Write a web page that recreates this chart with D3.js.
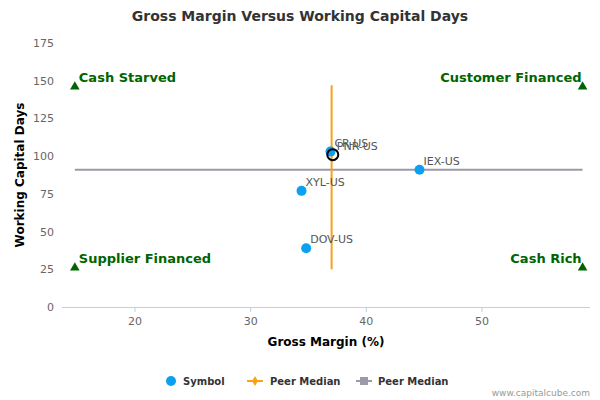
<!DOCTYPE html>
<html><head><meta charset="utf-8">
<script src="https://cdn.jsdelivr.net/npm/d3@7"></script>
<style>body{margin:0;background:#fff}svg{font-family:"DejaVu Sans",sans-serif}</style>
</head><body><svg id="c" width="600" height="400"></svg>
<script>
const symbols = ["CR-US", "PNR-US", "IEX-US", "XYL-US", "DOV-US"];
const grossMargin = [36.9, 37.1, 44.6, 34.4, 34.8];
const wcDays = [103, 101, 91, 77, 39];
const medianX = 37.0, medianY = 91;
const medianYRange = [25, 147];
const quadrants = [
  {name: "Cash Starved", x: 14.8, y: 146},
  {name: "Customer Financed", x: 58.7, y: 146},
  {name: "Supplier Financed", x: 14.8, y: 26},
  {name: "Cash Rich", x: 58.7, y: 26}
];
const xTicks = [20, 30, 40, 50];
const yTicks = [0, 25, 50, 75, 100, 125, 150, 175];

const svg = d3.select("#c");
const x = d3.scaleLinear().domain([13.69, 59.34]).range([62, 590]);
const y = d3.scaleLinear().domain([0, 175]).range([307, 43]);

svg.append("text").attr("x", 300).attr("y", 21).attr("text-anchor", "middle")
  .attr("font-size", 14).attr("font-weight", "bold").attr("fill", "#333")
  .text("Gross Margin Versus Working Capital Days");

// axes
svg.append("line").attr("x1", 62).attr("x2", 590).attr("y1", 307.5).attr("y2", 307.5).attr("stroke", "#c0d0e0");
xTicks.forEach(t => {
  svg.append("line").attr("x1", x(t)).attr("x2", x(t)).attr("y1", 307).attr("y2", 312).attr("stroke", "#c0d0e0");
  svg.append("text").attr("x", x(t)).attr("y", 325).attr("text-anchor", "middle").attr("font-size", 11).attr("fill", "#666").text(t);
});
yTicks.forEach(t => {
  svg.append("text").attr("x", 54).attr("y", y(t) + 4).attr("text-anchor", "end").attr("font-size", 11).attr("fill", "#666").text(t);
});
svg.append("text").attr("x", 326).attr("y", 346).attr("text-anchor", "middle").attr("font-size", 12).attr("font-weight", "bold").attr("fill", "#000").text("Gross Margin (%)");
svg.append("text").attr("transform", `translate(24,175) rotate(-90)`).attr("text-anchor", "middle").attr("font-size", 12).attr("font-weight", "bold").attr("fill", "#000").text("Working Capital Days");

// medians
svg.append("line").attr("x1", x(14.8)).attr("x2", x(58.7)).attr("y1", y(medianY)).attr("y2", y(medianY)).attr("stroke", "#9a9aa8").attr("stroke-width", 2);
svg.append("line").attr("x1", x(medianX)).attr("x2", x(medianX)).attr("y1", y(medianYRange[0])).attr("y2", y(medianYRange[1])).attr("stroke", "#f7a21b").attr("stroke-width", 2);

// quadrant markers
const tri = d3.symbol().type(d3.symbolTriangle).size(40);
quadrants.forEach(q => {
  svg.append("path").attr("d", tri()).attr("transform", `translate(${x(q.x)},${y(q.y)})`).attr("fill", "#006400");
  const left = q.x < 30;
  svg.append("text").attr("x", left ? x(q.x) + 4 : x(q.x) - 1).attr("y", y(q.y) - 5)
    .attr("text-anchor", left ? "start" : "end").attr("font-size", 13).attr("font-weight", "bold")
    .attr("fill", "#006400").text(q.name);
});

// points
symbols.forEach((s, i) => {
  const px = x(grossMargin[i]), py = y(wcDays[i]);
  if (s === "PNR-US") {
    svg.append("circle").attr("cx", px).attr("cy", py).attr("r", 5.5).attr("fill", "none").attr("stroke", "#000").attr("stroke-width", 2);
  } else {
    svg.append("circle").attr("cx", px).attr("cy", py).attr("r", 5).attr("fill", "#0da0f0");
  }
  svg.append("text").attr("x", px + 4).attr("y", py - 5).attr("font-size", 11).attr("fill", "#555").text(s);
});

// legend
const ly = 381;
svg.append("circle").attr("cx", 171).attr("cy", ly).attr("r", 5).attr("fill", "#0da0f0");
svg.append("text").attr("x", 183).attr("y", ly + 4).attr("font-size", 10).attr("font-weight", "bold").attr("fill", "#333").text("Symbol");
svg.append("line").attr("x1", 247).attr("x2", 263).attr("y1", ly).attr("y2", ly).attr("stroke", "#f7a21b").attr("stroke-width", 2);
svg.append("path").attr("d", d3.symbol().type(d3.symbolDiamond).size(30)()).attr("transform", `translate(255,${ly})`).attr("fill", "#f7a21b");
svg.append("text").attr("x", 270).attr("y", ly + 4).attr("font-size", 10).attr("font-weight", "bold").attr("fill", "#333").text("Peer Median");
svg.append("line").attr("x1", 356).attr("x2", 372).attr("y1", ly).attr("y2", ly).attr("stroke", "#9a9aa8").attr("stroke-width", 2);
svg.append("rect").attr("x", 360).attr("y", ly - 4).attr("width", 8).attr("height", 8).attr("fill", "#9a9aa8");
svg.append("text").attr("x", 378).attr("y", ly + 4).attr("font-size", 10).attr("font-weight", "bold").attr("fill", "#333").text("Peer Median");
svg.append("text").attr("x", 590).attr("y", 396).attr("text-anchor", "end").attr("font-size", 9).attr("fill", "#999").text("www.capitalcube.com");
</script></body></html>
